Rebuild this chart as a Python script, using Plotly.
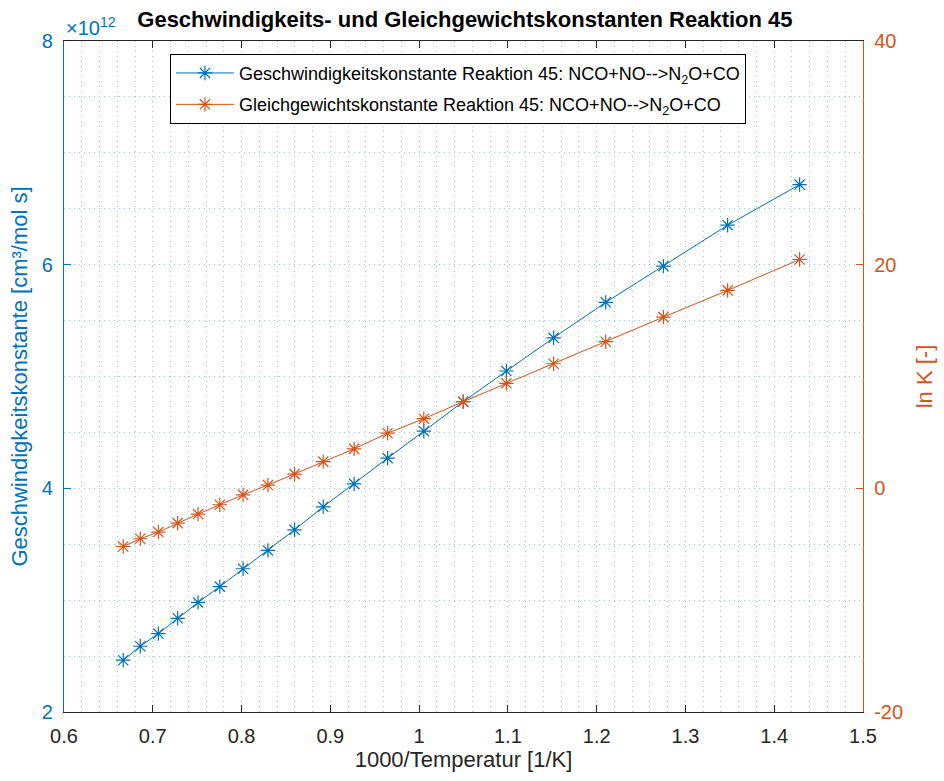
import plotly.graph_objects as go

# 1000/T values [1/K]
inv_T = [0.6667, 0.6859, 0.7063, 0.7280, 0.7510, 0.7755, 0.8017, 0.8297, 0.8597, 0.8920,
         0.9268, 0.9645, 1.0053, 1.0497, 1.0983, 1.1515, 1.2102, 1.2752, 1.3475, 1.4286]
# rate constant in units of 1e12 cm^3/(mol s)
k_e12 = [2.463, 2.588, 2.701, 2.838, 2.980, 3.121, 3.281, 3.445, 3.629, 3.835,
         4.040, 4.270, 4.511, 4.775, 5.049, 5.346, 5.663, 5.987, 6.353, 6.716]
# ln K
lnK = [-5.20, -4.51, -3.91, -3.11, -2.30, -1.47, -0.58, 0.29, 1.27, 2.39,
       3.53, 4.93, 6.23, 7.75, 9.39, 11.14, 13.11, 15.31, 17.70, 20.46]

x_ticks = [0.6, 0.7, 0.8, 0.9, 1.0, 1.1, 1.2, 1.3, 1.4, 1.5]
x_ticklabels = ["0.6", "0.7", "0.8", "0.9", "1", "1.1", "1.2", "1.3", "1.4", "1.5"]
y_ticks = [2, 4, 6, 8]
y_ticklabels = ["2", "4", "6", "8"]
y2_ticks = [-20, 0, 20, 40]
y2_ticklabels = ["-20", "0", "20", "40"]

BLUE = "#0072BD"
ORANGE = "#D95319"
DARK = "#262626"
FONT = "Liberation Sans, Arial, Helvetica, sans-serif"
GRID_X = "#bcbcbc"
GRID_Y = "#9cc6e6"
DOT = "1px,4px"

fig = go.Figure()
fig.add_trace(go.Scatter(
    x=inv_T, y=k_e12, mode="lines+markers",
    name="Geschwindigkeitskonstante Reaktion 45: NCO+NO-->N<sub>2</sub>O+CO",
    legendgroup="k",
    line=dict(color=BLUE, width=1),
    marker=dict(symbol="asterisk-open", size=12, line=dict(color=BLUE, width=1.2)),
    yaxis="y"))
fig.add_trace(go.Scatter(
    x=inv_T, y=lnK, mode="lines+markers",
    name="Gleichgewichtskonstante Reaktion 45: NCO+NO-->N<sub>2</sub>O+CO",
    legendgroup="K",
    line=dict(color=ORANGE, width=1),
    marker=dict(symbol="asterisk-open", size=12, line=dict(color=ORANGE, width=1.2)),
    yaxis="y2"))

fig.update_layout(
    width=944, height=781,
    margin=dict(l=63.5, r=77.5, t=40.5, b=68.5),
    paper_bgcolor="white", plot_bgcolor="white",
    font=dict(family=FONT, size=20, color=DARK),
    showlegend=True,
    title=dict(text="<b>Geschwindigkeits- und Gleichgewichtskonstanten Reaktion 45</b>",
               x=0.4925, xanchor="center", y=0.975, yanchor="middle",
               font=dict(size=22, color="black", family=FONT)),
    xaxis=dict(
        range=[0.6, 1.5], tickvals=x_ticks, ticktext=x_ticklabels,
        ticks="inside", ticklen=7, tickcolor=DARK, tickwidth=1,
        showline=True, linecolor=DARK, linewidth=1, mirror="ticks",
        showgrid=True, gridcolor=GRID_X, griddash=DOT, gridwidth=1,
        minor=dict(dtick=0.02, tick0=0.6, showgrid=True, gridcolor=GRID_X,
                   griddash=DOT, gridwidth=1),
        zeroline=False, ticklabelstandoff=6,
        title=dict(text="1000/Temperatur [1/K]", font=dict(size=22, color=DARK), standoff=4),
        tickfont=dict(size=20, color=DARK),
    ),
    yaxis=dict(
        range=[2, 8], tickvals=y_ticks, ticktext=y_ticklabels,
        ticks="inside", ticklen=7, tickcolor=BLUE, tickwidth=1,
        showline=True, linecolor=BLUE, linewidth=1.3,
        showgrid=True, gridcolor=GRID_Y, griddash=DOT, gridwidth=1,
        minor=dict(dtick=0.5, tick0=2, showgrid=True, gridcolor=GRID_Y,
                   griddash=DOT, gridwidth=1),
        zeroline=False, ticklabelstandoff=6,
        title=dict(text="Geschwindigkeitskonstante [cm³/mol s]",
                   font=dict(size=22, color=BLUE), standoff=8),
        tickfont=dict(size=20, color=BLUE),
    ),
    yaxis2=dict(
        range=[-20, 40], tickvals=y2_ticks, ticktext=y2_ticklabels,
        overlaying="y", side="right",
        ticks="inside", ticklen=7, tickcolor=ORANGE, tickwidth=1,
        showline=True, linecolor=ORANGE, linewidth=1.3,
        showgrid=False, zeroline=False, ticklabelstandoff=6,
        title=dict(text="ln K [-]", font=dict(size=22, color=ORANGE), standoff=14),
        tickfont=dict(size=20, color=ORANGE),
    ),
    legend=dict(
        x=0.1326, y=0.981, xanchor="left", yanchor="top",
        bgcolor="white", bordercolor="black", borderwidth=1,
        font=dict(size=18, color="black", family=FONT),
        tracegroupgap=5, itemwidth=58,
    ),
)

fig.add_annotation(
    text="×10<sup>12</sup>", xref="paper", yref="paper",
    x=0.0, y=1.0, xanchor="left", yanchor="bottom", yshift=0,
    showarrow=False, font=dict(size=20, color=BLUE, family=FONT))

fig.write_html("out.html")
